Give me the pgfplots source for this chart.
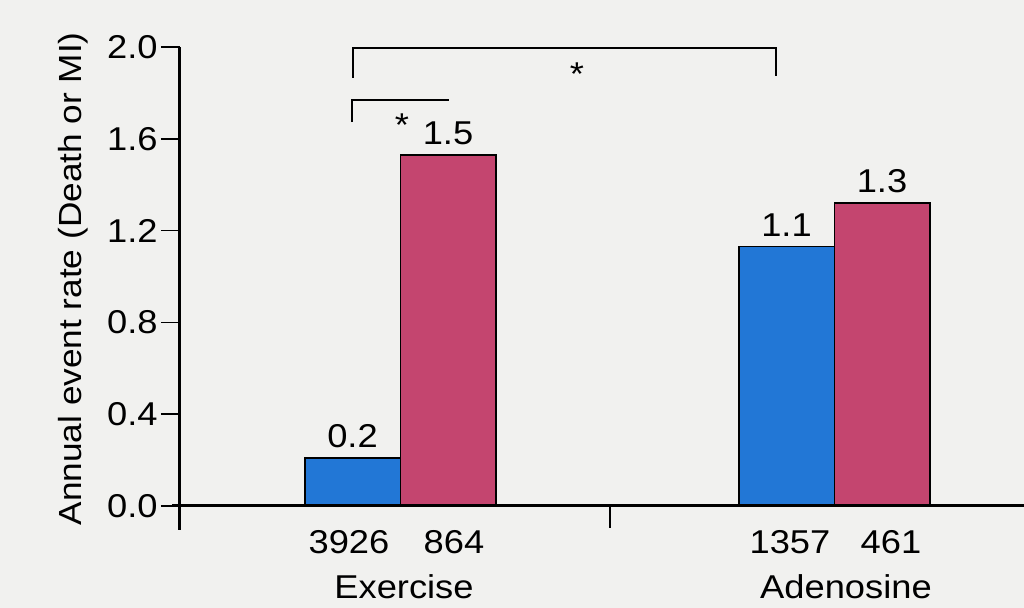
\documentclass[border=0pt]{standalone}
\usepackage{pgfplots}
\pgfplotsset{compat=1.18}
\usepackage{pgfplotstable}
\usepackage{fontspec}
\setmainfont{Liberation Sans}[FakeStretch=1.1]
\definecolor{barblue}{HTML}{2277D6}
\definecolor{barred}{HTML}{C4456F}
\definecolor{bg}{HTML}{F1F1EF}

\pgfplotstableread{
x y lab
352.5 0.21 0.2
786.5 1.13 1.1
}\bluedata
\pgfplotstableread{
x y lab
448 1.53 1.5
882 1.32 1.3
}\reddata

\begin{document}
\fontsize{16.5}{19}\selectfont
\begin{tikzpicture}
\fill[bg] (0,0) rectangle (512pt,304pt);
\path[use as bounding box] (0,0) rectangle (512pt,304pt);
\begin{axis}[
  at={(90pt,39pt)}, anchor=south west,
  scale only axis, width=422pt, height=241.5pt,
  xmin=180, xmax=1024, ymin=-0.1046, ymax=2.0,
  axis y line*=left, axis x line*=bottom,
  y axis line style={line width=1.5pt, -},
  x axis line style={draw=none},
  ytick={0,0.4,0.8,1.2,1.6,2.0},
  yticklabel style={/pgf/number format/.cd, fixed, fixed zerofill, precision=1, /tikz/.cd, inner sep=1.5pt},
  /pgf/number format/assume math mode=true,
  tick align=outside,
  major tick length=9.5pt,
  ytick style={line width=0.75pt, black},
  xtick={349,454,790,891},
  xticklabels={3926,864,1357,461},
  xtick style={draw=none},
  xticklabel style={anchor=base, yshift=-2.5pt},
  ylabel={Annual event rate (Death or MI)},
  ylabel style={at={(axis cs:73,0.99)}, anchor=center, font=\fontsize{16}{19}\selectfont},
  clip=false,
]
\addplot[ybar, bar width=95.5, bar shift=0, fill=barblue, draw=black, line width=0.75pt,
  nodes near coords, point meta=explicit symbolic,
  nodes near coords style={anchor=south, inner sep=0pt, yshift=4.5pt, text=black}]
  table[x=x, y=y, meta=lab] {\bluedata};
\addplot[ybar, bar width=95.5, bar shift=0, fill=barred, draw=black, line width=0.75pt,
  nodes near coords, point meta=explicit symbolic,
  nodes near coords style={anchor=south, inner sep=0pt, yshift=4.5pt, text=black}]
  table[x=x, y=y, meta=lab] {\reddata};
\draw[line width=1.5pt] (axis cs:172,0) -- (axis cs:1024,0);
\draw[line width=0.75pt] (axis cs:610,0) -- (axis cs:610,-0.096);
\draw[line width=0.9pt] (axis cs:353,1.865) |- (axis cs:776,1.9956) -- (axis cs:776,1.874);
\node[anchor=base] at (axis cs:577,1.834) {*};
\draw[line width=0.9pt] (axis cs:352,1.673) |- (axis cs:449,1.769);
\node[anchor=base] at (axis cs:402,1.612) {*};
\node[anchor=base] at (axis cs:404,-0.401) {Exercise};
\node[anchor=base] at (axis cs:846,-0.401) {Adenosine};
\end{axis}
\end{tikzpicture}
\end{document}
